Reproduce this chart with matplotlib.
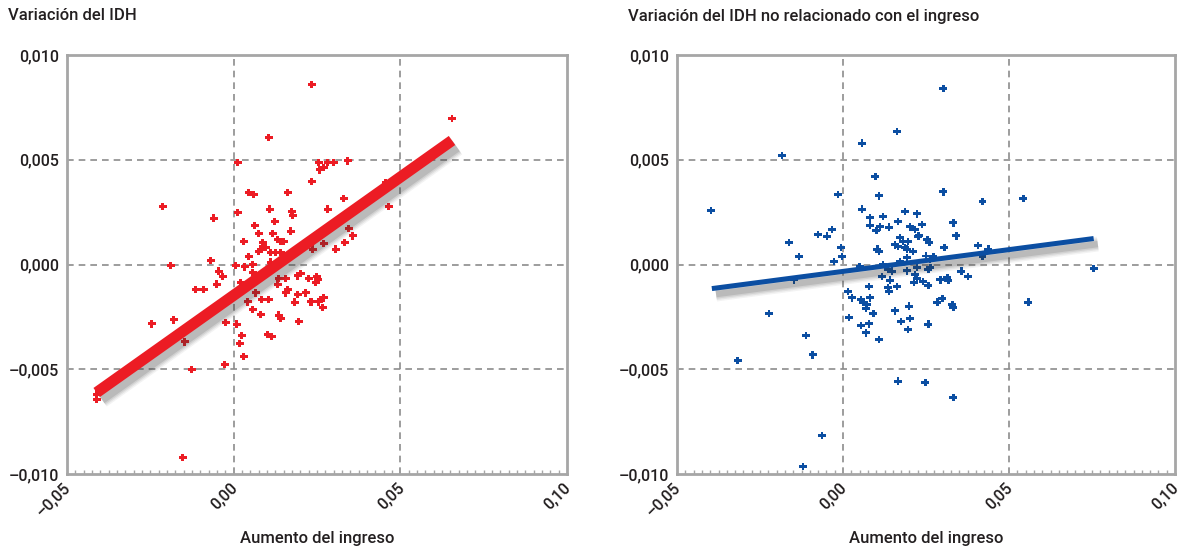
import matplotlib
matplotlib.use("Agg")
import matplotlib.pyplot as plt
import matplotlib.patheffects as pe
import matplotlib.transforms as mtransforms
from matplotlib.ticker import MultipleLocator, FixedLocator
import numpy as np

# ---------------- data ----------------
left_x = [0.0234, 0.0105, 0.0012, -0.0213, -0.0060, 0.0045, 0.0060, 0.0162, 0.0234, 0.0012,
          0.0108, 0.0174, 0.0177, 0.0123, 0.0063, 0.0075, 0.0117, 0.0171, 0.0030, 0.0087,
          0.0132, 0.0141, 0.0081, 0.0045, -0.0069, -0.0189, 0.0006, 0.0057, 0.0655, 0.0255,
          0.0282, 0.0300, 0.0342, 0.0258, 0.0270, 0.0330, 0.0282, 0.0465, 0.0456, 0.0345,
          0.0357, 0.0333, 0.0270, 0.0306, 0.0237, 0.0150, 0.0096, 0.0126, 0.0141, 0.0156,
          0.0075, 0.0111, 0.0033, 0.0111, -0.0045, -0.0033, 0.0057, -0.0051, -0.0114, -0.0090,
          0.0135, 0.0156, 0.0192, 0.0201, 0.0225, 0.0249, 0.0246, 0.0021, 0.0132, 0.0162,
          0.0156, 0.0192, 0.0216, 0.0231, 0.0261, 0.0270, 0.0267, 0.0066, 0.0042, 0.0084,
          0.0105, 0.0057, 0.0081, 0.0135, 0.0141, 0.0183, 0.0195, -0.0024, 0.0009, 0.0102,
          0.0114, 0.0024, 0.0018, 0.0030, -0.0246, -0.0180, -0.0147, -0.0126, -0.0027, -0.0411,
          -0.0153, 0.0234, 0.0255, 0.0252, -0.0411, 0.0050, 0.0100, 0.0150, 0.0200, 0.0300,
          0.0400, -0.0200, -0.0300]
left_y = [0.00859, 0.00606, 0.00487, 0.00277, 0.00220, 0.00344, 0.00334, 0.00344, 0.00396, 0.00248,
          0.00263, 0.00253, 0.00234, 0.00205, 0.00186, 0.00148, 0.00148, 0.00158, 0.00110, 0.00105,
          0.00119, 0.00110, 0.00072, 0.00038, 0.00019, -0.00005, -0.00005, 0.00000, 0.00697, 0.00487,
          0.00487, 0.00487, 0.00496, 0.00453, 0.00463, 0.00315, 0.00263, 0.00277, 0.00391, 0.00172,
          0.00138, 0.00105, 0.00100, 0.00072, 0.00072, 0.00110, 0.00081, 0.00057, 0.00057, 0.00043,
          0.00062, 0.00057, -0.00010, 0.00010, -0.00033, -0.00057, -0.00038, -0.00095, -0.00119, -0.00119,
          -0.00067, -0.00067, -0.00053, -0.00043, -0.00067, -0.00057, -0.00086, -0.00086, -0.00095, -0.00119,
          -0.00134, -0.00143, -0.00134, -0.00177, -0.00167, -0.00158, -0.00205, -0.00134, -0.00177, -0.00167,
          -0.00167, -0.00215, -0.00239, -0.00243, -0.00258, -0.00181, -0.00272, -0.00277, -0.00286, -0.00334,
          -0.00344, -0.00339, -0.00377, -0.00439, -0.00282, -0.00263, -0.00368, -0.00501, -0.00477, -0.00644,
          -0.00921, -0.00177, -0.00177, -0.00072, -0.00620, -0.00090, -0.00035, 0.00020, 0.00080, 0.00190,
          0.00300, -0.00370, -0.00480]

left_fit_x = [-0.0411, 0.0655]
left_fit_y = [-0.00611, 0.00592]

right_x = [0.0163, 0.0057, -0.0184, -0.0398, 0.0097, -0.0015, 0.0109, 0.0057, 0.0081, 0.0081,
           0.0121, 0.0112, 0.0139, 0.0100, 0.0166, 0.0187, 0.0223, 0.0238, 0.0202, 0.0217,
           0.0226, 0.0172, 0.0181, 0.0196, 0.0157, 0.0193, 0.0211, 0.0103, 0.0109, -0.0075,
           -0.0048, -0.0033, -0.0163, -0.0133, -0.0006, -0.0003, -0.0027, 0.0254, 0.0302, 0.0420,
           0.0229, 0.0260, 0.0332, 0.0341, 0.0305, 0.0407, 0.0166, 0.0187, 0.0172, 0.0193,
           0.0262, 0.0272, 0.0420, 0.0136, 0.0148, 0.0193, 0.0223, 0.0217, 0.0223, 0.0257,
           0.0263, 0.0118, 0.0142, 0.0136, 0.0139, 0.0163, 0.0214, 0.0241, 0.0257, 0.0293,
           0.0314, 0.0317, 0.0356, 0.0377, 0.0015, 0.0027, 0.0054, 0.0060, 0.0081, 0.0078,
           0.0072, 0.0069, 0.0018, 0.0091, 0.0157, 0.0199, 0.0284, 0.0299, 0.0329, 0.0332,
           0.0054, 0.0078, 0.0175, 0.0202, 0.0069, 0.0196, 0.0257, 0.0109, -0.0223, -0.0112,
           -0.0091, -0.0317, -0.0148, 0.0166, 0.0248, -0.0063, -0.0121, 0.0302, 0.0543, 0.0755,
           0.0558, 0.0332, 0.0438, 0.0420, 0.0050, 0.0120, 0.0250]
right_y = [0.00635, 0.00578, 0.00520, 0.00258, 0.00420, 0.00334, 0.00329, 0.00263, 0.00224, 0.00186,
           0.00229, 0.00181, 0.00177, 0.00162, 0.00205, 0.00253, 0.00243, 0.00191, 0.00181, 0.00167,
           0.00134, 0.00129, 0.00110, 0.00110, 0.00095, 0.00072, 0.00062, 0.00072, 0.00062, 0.00143,
           0.00134, 0.00167, 0.00105, 0.00038, 0.00081, 0.00038, 0.00014, 0.00119, 0.00348, 0.00301,
           0.00138, 0.00105, 0.00200, 0.00138, 0.00081, 0.00091, 0.00086, 0.00081, 0.00014, 0.00033,
           0.00024, 0.00038, 0.00038, -0.00024, -0.00033, -0.00029, -0.00014, -0.00048, -0.00067, -0.00024,
           -0.00014, -0.00057, -0.00076, -0.00110, -0.00129, -0.00105, -0.00086, -0.00081, -0.00100, -0.00072,
           -0.00062, -0.00076, -0.00033, -0.00057, -0.00129, -0.00158, -0.00167, -0.00181, -0.00158, -0.00105,
           -0.00191, -0.00210, -0.00253, -0.00234, -0.00220, -0.00200, -0.00181, -0.00162, -0.00191, -0.00205,
           -0.00291, -0.00282, -0.00272, -0.00258, -0.00325, -0.00310, -0.00286, -0.00358, -0.00234, -0.00339,
           -0.00430, -0.00458, -0.00072, -0.00558, -0.00563, -0.00816, -0.00964, 0.00840, 0.00315, -0.00019,
           -0.00181, -0.00635, 0.00072, 0.00043, -0.00010, 0.00000, 0.00040]

right_fit_x = [-0.0395, 0.0755]
right_fit_y = [-0.00115, 0.00124]

titles = ["Variación del IDH", "Variación del IDH no relacionado con el ingreso"]
xlabel = "Aumento del ingreso"
xticks = [-0.05, 0.00, 0.05, 0.10]
xtick_labels = ["–0,05", "0,00", "0,05", "0,10"]
yticks = [-0.010, -0.005, 0.000, 0.005, 0.010]
ytick_labels = ["–0,010", "–0,005", "0,000", "0,005", "0,010"]

RED = "#ec1c24"
BLUE = "#0b4ea2"
GRID = "#8c8c8c"
SPINE = "#a6a6a6"
TXT = "#231f20"

plt.rcParams['font.family'] = ["Roboto", "DejaVu Sans"]
FW = 'medium'

fig = plt.figure(figsize=(11.82, 5.5), dpi=100)
axL = fig.add_axes([67/1182, 1-474/550, 500/1182, 419/550])
axR = fig.add_axes([677/1182, 1-474/550, 498/1182, 419/550])

panels = [
    (axL, left_x, left_y, left_fit_x, left_fit_y, RED, 8.0, 317),
    (axR, right_x, right_y, right_fit_x, right_fit_y, BLUE, 3.6, 926),
]


def soft_shadow(lw):
    effects = []
    for k, a in [(7, 0.06), (5, 0.08), (3, 0.10), (1, 0.14)]:
        effects.append(pe.SimpleLineShadow(offset=(3, -4), shadow_color='#333333',
                                           alpha=a, linewidth=lw + k))
    effects.append(pe.Normal())
    return effects


for i, (ax, xs, ys, fx, fy, col, lw, cx) in enumerate(panels):
    ax.set_xlim(-0.05, 0.10)
    ax.set_ylim(-0.010, 0.010)
    for gx in [0.0, 0.05]:
        ax.axvline(gx, color=GRID, lw=1.2, ls=(0, (4, 3)), zorder=1)
    for gy in [-0.005, 0.0, 0.005]:
        ax.axhline(gy, color=GRID, lw=1.2, ls=(0, (4, 3)), zorder=1)
    ax.scatter(xs, ys, marker='P', s=32, color=col, edgecolors='none', zorder=3)
    ax.plot(fx, fy, color=col, lw=lw, solid_capstyle='butt', zorder=4,
            path_effects=soft_shadow(lw))
    for s in ax.spines.values():
        s.set_color(SPINE)
        s.set_linewidth(2.0)
    ax.xaxis.set_major_locator(FixedLocator(xticks))
    ax.set_xticklabels(xtick_labels)
    ax.yaxis.set_major_locator(FixedLocator(yticks))
    ax.set_yticklabels(ytick_labels)
    ax.xaxis.set_minor_locator(MultipleLocator(0.0025))
    ax.tick_params(axis='both', which='major', length=0, labelsize=11.5, colors=TXT)
    ax.tick_params(axis='x', which='major', pad=4)
    ax.tick_params(axis='y', which='major', pad=6)
    ax.tick_params(axis='x', which='minor', direction='in', length=3, width=1, color=SPINE)
    for lab in ax.get_xticklabels() + ax.get_yticklabels():
        lab.set_fontweight(FW)
    shift = mtransforms.ScaledTranslation(-4/100, 0, fig.dpi_scale_trans)
    for lab in ax.get_xticklabels():
        lab.set_rotation(45)
        lab.set_ha('right')
        lab.set_va('top')
        lab.set_rotation_mode('anchor')
        lab.set_transform(lab.get_transform() + shift)
    fig.text(cx/1182, 1-538/550, xlabel, fontsize=12, fontweight=FW, color=TXT,
             ha='center', va='center')

fig.text(0.007, 1-16/550, titles[0], fontsize=12, fontweight=FW, color=TXT, ha='left', va='center')
fig.text(628/1182, 1-16/550, titles[1], fontsize=12, fontweight=FW, color=TXT, ha='left', va='center')

fig.savefig("out.png", dpi=100)
